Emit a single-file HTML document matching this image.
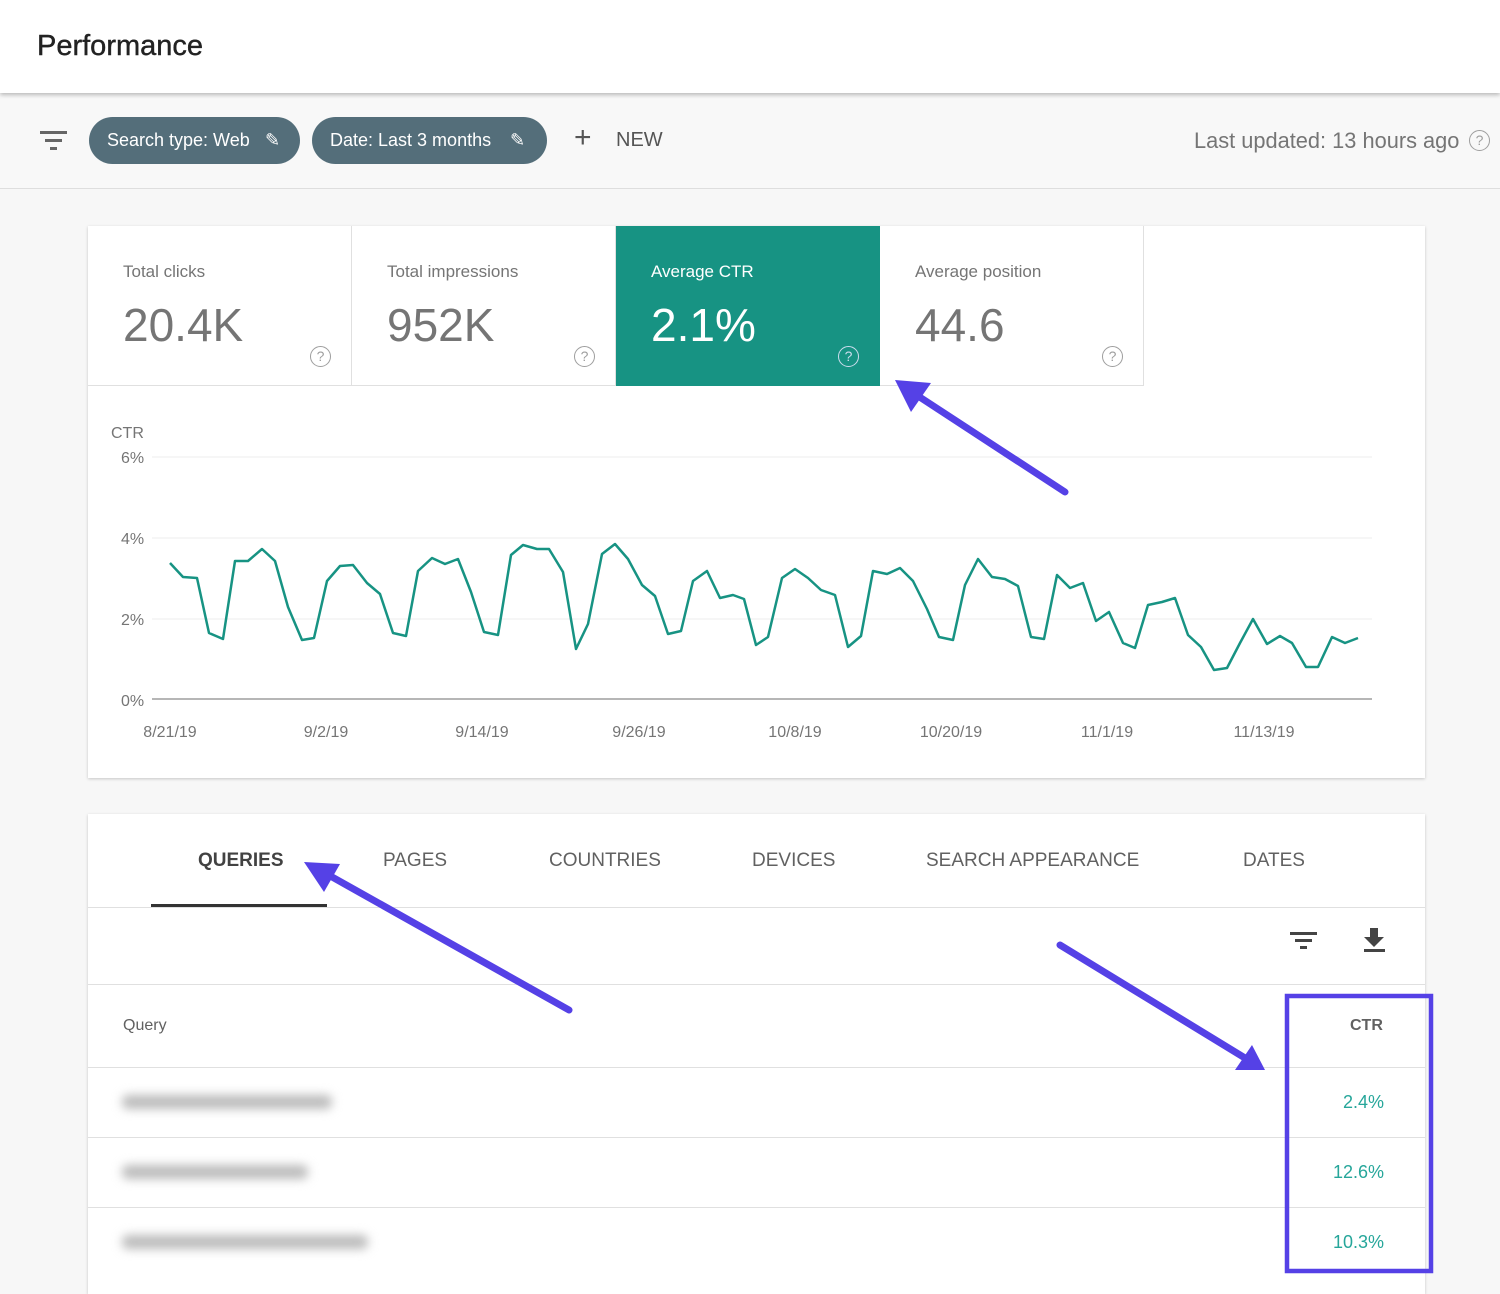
<!DOCTYPE html>
<html><head><meta charset="utf-8"><style>
*{margin:0;padding:0;box-sizing:border-box}
body{width:1500px;height:1281px;overflow:hidden;background:#f7f7f7;font-family:"Liberation Sans",sans-serif;position:relative;color:#5f6368}
.a{position:absolute}
#hdr{left:0;top:0;width:1500px;height:93px;background:#fff;box-shadow:0 2px 4px rgba(0,0,0,.25);z-index:2}
#bar{left:0;top:93px;width:1500px;height:96px;background:#f8f8f8;border-bottom:1px solid #dedede}
.chip{top:117px;height:47px;border-radius:24px;background:#546e7a;color:#fff;font-size:18px;line-height:47px;padding-left:18px}
.card{background:#fff;box-shadow:0 1px 3px rgba(0,0,0,.2)}
.tile{top:226px;width:264px;height:160px;border-right:1px solid #e0e0e0;border-bottom:1px solid #e0e0e0;background:#fff}
.tile .l{position:absolute;left:35px;top:36px;font-size:17px;color:#757575}
.tile .v{position:absolute;left:35px;top:72px;font-size:46px;color:#757575}
.tile .q{position:absolute;left:222px;top:120px;width:21px;height:21px;border:1.5px solid #9e9e9e;border-radius:50%;font-size:14px;text-align:center;line-height:18px;color:#9e9e9e}
.tab{top:850px;font-size:19px;color:#616161}
.blur{background:#bbb;filter:blur(5px);height:14px;border-radius:6px}
</style></head><body>
<div class="a" id="hdr"><div class="a" style="left:37px;top:30px;font-size:29px;color:#222;-webkit-text-stroke:0.4px #222">Performance</div></div>
<div class="a" id="bar">
<svg class="a" style="left:40px;top:38px" width="28" height="20"><rect x="0" y="0" width="27" height="3" fill="#666"/><rect x="5" y="8" width="17" height="3" fill="#666"/><rect x="10" y="16" width="7" height="3" fill="#666"/></svg>
</div>
<div class="a chip" style="left:89px;width:211px">Search type: Web <span style="position:absolute;left:176px;top:0">&#9998;</span></div>
<div class="a chip" style="left:312px;width:235px">Date: Last 3 months <span style="position:absolute;left:198px;top:0">&#9998;</span></div>
<div class="a" style="left:574px;top:123px;font-size:30px;color:#555;line-height:30px">+</div>
<div class="a" style="left:616px;top:129px;font-size:20px;color:#555">NEW</div>
<div class="a" style="left:1194px;top:128px;font-size:21.8px;color:#757575">Last updated: 13 hours ago</div>
<div class="a" style="left:1469px;top:130px;width:21px;height:21px;border:1.5px solid #9e9e9e;border-radius:50%;font-size:14px;text-align:center;line-height:18px;color:#9e9e9e">?</div>

<div class="a card" style="left:88px;top:226px;width:1337px;height:552px"></div>
<div class="a tile" style="left:88px"><div class="l">Total clicks</div><div class="v">20.4K</div><div class="q">?</div></div>
<div class="a tile" style="left:352px"><div class="l">Total impressions</div><div class="v">952K</div><div class="q">?</div></div>
<div class="a tile" style="left:616px;background:#179383;border-color:#179383"><div class="l" style="color:#fff">Average CTR</div><div class="v" style="color:#fff">2.1%</div><div class="q" style="color:#cde;border-color:#cde">?</div></div>
<div class="a tile" style="left:880px"><div class="l">Average position</div><div class="v">44.6</div><div class="q">?</div></div>

<div class="a card" style="left:88px;top:814px;width:1337px;height:480px"></div>
<div class="a tab" style="left:198px;color:#424242;font-weight:bold">QUERIES</div>
<div class="a tab" style="left:383px">PAGES</div>
<div class="a tab" style="left:549px">COUNTRIES</div>
<div class="a tab" style="left:752px">DEVICES</div>
<div class="a tab" style="left:926px">SEARCH APPEARANCE</div>
<div class="a tab" style="left:1243px">DATES</div>
<div class="a" style="left:151px;top:904px;width:176px;height:3px;background:#333"></div>
<div class="a" style="left:88px;top:907px;width:1337px;height:1px;background:#e0e0e0"></div>
<div class="a" style="left:88px;top:984px;width:1337px;height:1px;background:#e0e0e0"></div>
<div class="a" style="left:88px;top:1067px;width:1337px;height:1px;background:#e0e0e0"></div>
<div class="a" style="left:88px;top:1137px;width:1337px;height:1px;background:#e0e0e0"></div>
<div class="a" style="left:88px;top:1207px;width:1337px;height:1px;background:#e0e0e0"></div>
<div class="a" style="left:123px;top:1017px;font-size:16px;color:#616161">Query</div>
<div class="a" style="left:1350px;top:1017px;font-size:16px;color:#616161;font-weight:bold">CTR</div>
<div class="a" style="left:1343px;top:1092px;font-size:18px;color:#26a69a">2.4%</div>
<div class="a" style="left:1333px;top:1162px;font-size:18px;color:#26a69a">12.6%</div>
<div class="a" style="left:1333px;top:1232px;font-size:18px;color:#26a69a">10.3%</div>
<div class="a blur" style="left:122px;top:1095px;width:210px"></div>
<div class="a blur" style="left:122px;top:1165px;width:186px"></div>
<div class="a blur" style="left:122px;top:1235px;width:246px"></div>
<svg class="a" style="left:1290px;top:930px" width="30" height="20"><rect x="0" y="2" width="27" height="3" fill="#444"/><rect x="5" y="9" width="17" height="3" fill="#444"/><rect x="10" y="16" width="7" height="3" fill="#444"/></svg>
<svg class="a" style="left:1362px;top:926px" width="26" height="28"><path d="M8 2h8v9h6l-10 10-10-10h6z" fill="#444"/><rect x="2" y="23" width="21" height="3" fill="#444"/></svg>

<svg class="a" style="left:0;top:0" width="1500" height="1281">
<g font-family="Liberation Sans" font-size="16" fill="#757575">
<text x="111" y="438">CTR</text>
<text x="121" y="463">6%</text><text x="121" y="544">4%</text><text x="121" y="625">2%</text><text x="121" y="706">0%</text>
<g text-anchor="middle"><text x="170" y="737">8/21/19</text><text x="326" y="737">9/2/19</text><text x="482" y="737">9/14/19</text><text x="639" y="737">9/26/19</text><text x="795" y="737">10/8/19</text><text x="951" y="737">10/20/19</text><text x="1107" y="737">11/1/19</text><text x="1264" y="737">11/13/19</text></g>
</g>
<g stroke="#ececec" stroke-width="1"><line x1="152" y1="457" x2="1372" y2="457"/><line x1="152" y1="538" x2="1372" y2="538"/><line x1="152" y1="619" x2="1372" y2="619"/></g>
<line x1="152" y1="699" x2="1372" y2="699" stroke="#9e9e9e" stroke-width="1.5"/>
<polyline fill="none" stroke="#179383" stroke-width="2.5" stroke-linejoin="round" points="170,563 183,577 197,578 209,633 223,639 235,561 248,561 262,549 275,561 288,607 302,640 314,638 327,581 340,566 353,565 367,583 380,594 393,633 406,636 418,571 432,558 445,564 458,559 471,592 484,632 498,635 511,555 523,545 537,549 549,549 563,572 576,649 588,624 602,554 615,544 628,559 642,585 655,596 668,634 681,631 693,581 707,571 720,598 733,595 744,599 756,645 768,637 782,578 795,569 808,578 821,590 835,595 848,647 861,636 873,571 887,574 900,568 913,581 927,609 939,637 953,640 965,585 978,559 992,577 1005,579 1018,586 1031,637 1044,639 1057,575 1070,588 1083,583 1096,621 1109,612 1123,643 1135,648 1148,605 1162,602 1175,598 1188,635 1201,647 1214,670 1227,668 1240,643 1253,619 1267,644 1280,636 1292,643 1306,667 1318,667 1332,637 1345,643 1358,638"/>
<g fill="#5541e6" stroke="#5541e6" stroke-width="7" stroke-linecap="round">
<line x1="1065" y1="492" x2="915" y2="394"/>
<polygon stroke="none" points="895,380 931,383 911,412"/>
<line x1="569" y1="1010" x2="325" y2="873"/>
<polygon stroke="none" points="304,862 340,864 324,892"/>
<line x1="1060" y1="945" x2="1245" y2="1058"/>
<polygon stroke="none" points="1265,1070 1252,1045 1235,1070"/>
</g>
<rect x="1287" y="996" width="144" height="275" fill="none" stroke="#5541e6" stroke-width="4.5"/>
</svg>
</body></html>
